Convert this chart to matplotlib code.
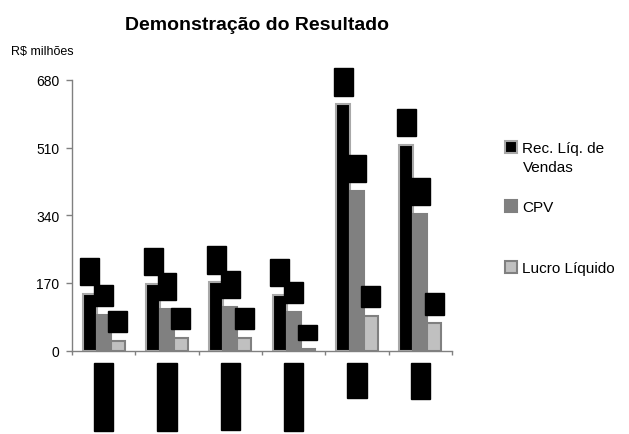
import matplotlib
matplotlib.use("Agg")
import matplotlib.pyplot as plt
import numpy as np

plt.rcParams['font.family'] = ['Liberation Sans', 'DejaVu Sans']

categorias = ['1º Trim. 08', '2º Trim. 08', '3º Trim. 08', '4º Trim. 08', '2008', '2007']
receita = [142, 167, 171, 140, 619, 517]
cpv = [90, 104, 110, 98, 401, 343]
lucro = [25, 31, 31, 5, 87, 68]
series_nomes = ['Rec. Líq. de', 'CPV', 'Lucro Líquido']
yticks = [0, 170, 340, 510, 680]

fig = plt.figure(figsize=(6.29, 4.35), dpi=100)
ax = fig.add_axes([72/629, 1-351.5/435, 380/629, 270.5/435])

x = np.arange(len(categorias))
w = 0.22
estilos = [('black', '#a8a8a8'), ('#808080', '#808080'), ('#c0c0c0', '#808080')]
barras = []
for k, (vals, (fc, ec)) in enumerate(zip([receita, cpv, lucro], estilos)):
   b = ax.bar(x + (k-1)*w, vals, w, color=fc, edgecolor=ec, linewidth=1.5)
   barras.append(b)
   # rotulos de valor (tarjados no original)
   for xi, v in zip(x + (k-1)*w, vals):
      ax.annotate(str(v), (xi, v), xytext=(0, 9.5), textcoords='offset points',
                  rotation=90, ha='center', va='bottom', fontsize=8, color='black',
                  bbox=dict(boxstyle='square,pad=0.4', fc='black', ec='black'))

ax.set_xlim(-0.5, len(categorias)-0.5)
ax.set_ylim(0, 680)
ax.set_yticks(yticks)
ax.tick_params(axis='y', direction='out', length=4, width=1, color='#808080',
               labelsize=10, pad=5)
ax.set_xticks(x)
ax.set_xticklabels(categorias, rotation=90, fontsize=9)
ax.set_xticks(np.arange(-0.5, len(categorias), 1), minor=True)
ax.tick_params(axis='x', which='major', length=0, pad=11.7)
ax.tick_params(axis='x', which='minor', direction='out', length=3, width=1, color='#808080')
for t in ax.get_xticklabels():
   t.set_color('black')
   t.set_bbox(dict(boxstyle='square,pad=0.3', fc='black', ec='black'))

for s in ['top', 'right']:
   ax.spines[s].set_visible(False)
for s in ['left', 'bottom']:
   ax.spines[s].set_color('#808080')
   ax.spines[s].set_linewidth(1)

fig.text(257/629, 1-25/435, 'Demonstração do Resultado', ha='center', va='center',
         fontsize=14, fontweight='bold')
fig.text(11/629, 1-52/435, 'R$ milhões', ha='left', va='center', fontsize=9)

# legenda com espacamento irregular, como no original
posicoes = [149, 208, 269]
for b, nome, yp in zip(barras, series_nomes, posicoes):
   fig.legend(handles=[b], labels=[nome], loc='center left',
              bbox_to_anchor=(505/629, 1-yp/435), frameon=False, fontsize=11,
              handlelength=0.8, handleheight=0.8, handletextpad=0.3,
              borderpad=0, borderaxespad=0)
fig.text(523/629, 1-168/435, 'Vendas', ha='left', va='center', fontsize=11)

fig.savefig('out.png', dpi=100)
